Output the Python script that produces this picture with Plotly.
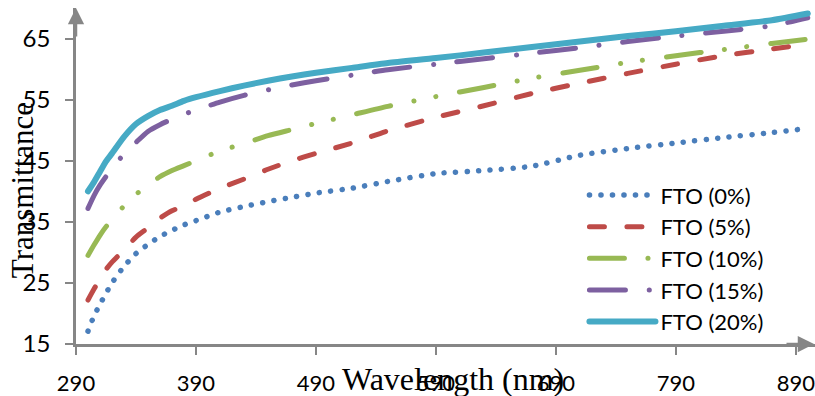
import plotly.graph_objects as go

wavelength = [300, 305, 310, 315, 320, 330, 340, 350, 360, 370, 380, 390, 410, 430, 450,
              470, 490, 520, 550, 590, 630, 670, 710, 750, 790, 830, 870, 900]

fto_0 = [17.1, 19.6, 21.5, 23.3, 25.0, 27.7, 29.8, 31.3, 32.6, 33.6, 34.5, 35.2, 36.6, 37.5, 38.3,
         39.0, 39.7, 40.5, 41.6, 42.9, 43.4, 44.1, 45.9, 47.0, 47.9, 48.8, 49.6, 50.3]
fto_5 = [22.2, 24.0, 25.6, 27.2, 28.4, 30.4, 32.5, 34.0, 35.6, 36.8, 37.6, 38.7, 40.5, 42.0, 43.6,
         45.0, 46.2, 47.9, 49.9, 52.1, 54.0, 56.0, 57.7, 59.3, 60.8, 62.2, 63.3, 64.1]
fto_10 = [29.5, 31.2, 32.8, 34.2, 35.3, 37.6, 39.5, 41.0, 42.4, 43.4, 44.2, 45.0, 46.6, 47.8, 49.1,
          50.1, 51.1, 52.5, 53.9, 55.5, 57.0, 58.5, 59.8, 61.1, 62.2, 63.2, 64.2, 64.9]
fto_15 = [37.2, 39.3, 41.0, 42.4, 43.7, 46.1, 48.0, 49.8, 50.9, 51.8, 52.6, 53.3, 54.6, 55.7, 56.6,
          57.4, 58.1, 59.0, 59.9, 60.8, 61.7, 62.6, 63.5, 64.5, 65.4, 66.2, 67.1, 68.4]
fto_20 = [40.0, 41.5, 43.2, 44.9, 46.2, 48.9, 51.0, 52.3, 53.3, 54.0, 54.8, 55.4, 56.4, 57.3, 58.1,
          58.8, 59.4, 60.2, 61.0, 61.8, 62.7, 63.6, 64.5, 65.4, 66.2, 67.1, 68.0, 69.1]

series_names = ["FTO (0%)", "FTO (5%)", "FTO (10%)", "FTO (15%)", "FTO (20%)"]
series_values = [fto_0, fto_5, fto_10, fto_15, fto_20]

x_ticks = [290, 390, 490, 590, 690, 790, 890]
y_ticks = [15, 25, 35, 45, 55, 65]

colors = ["#4a7ebb", "#be4b48", "#98b954", "#7d60a0", "#46aac5"]
# dash patterns designed for round line caps
dashes = ["0.1px,11.4px", "15px,22.5px", "35px,23.5px,0.1px,22.3px,0.1px,24px",
          "36px,23.8px,0.1px,23.5px", "solid"]
widths = [5.5, 5, 5, 5, 6]

fig = go.Figure()
for i, (name, vals) in enumerate(zip(series_names, series_values)):
    fig.add_trace(go.Scatter(
        x=wavelength, y=vals, name=name, mode="lines",
        line=dict(color=colors[i], width=widths[i], dash=dashes[i], shape="spline", smoothing=0.6),
    ))

axis_color = "#868686"

fig.update_layout(
    width=815, height=396,
    margin=dict(l=76, r=0, t=8, b=50),
    paper_bgcolor="white", plot_bgcolor="white",
    showlegend=True,
    legend=dict(
        x=0.688, y=0.505, xanchor="left", yanchor="top",
        font=dict(family="Lato", size=22, color="#000000"),
        bgcolor="rgba(0,0,0,0)",
        itemwidth=66,
        traceorder="normal",
    ),
    xaxis=dict(
        range=[290, 906], tickvals=x_ticks, ticktext=[str(v) for v in x_ticks],
        showgrid=False, zeroline=False, showline=True, linecolor=axis_color, linewidth=2.5,
        ticks="outside", ticklen=8, tickwidth=2, tickcolor=axis_color,
        tickfont=dict(family="Lato", size=22, color="#000000"),
        ticklabelstandoff=10, ticklabeloverflow="allow",
    ),
    yaxis=dict(
        range=[15, 70], tickvals=y_ticks, ticktext=[str(v) for v in y_ticks],
        showgrid=False, zeroline=False, showline=True, linecolor=axis_color, linewidth=2.5,
        ticks="outside", ticklen=8, tickwidth=2, tickcolor=axis_color,
        tickfont=dict(family="Lato", size=24, color="#000000"),
        ticklabelstandoff=10, ticklabeloverflow="allow",
    ),
    annotations=[
        dict(xref="paper", yref="paper", x=1, y=0, ax=-30, ay=0, text="", showarrow=True,
             arrowhead=2, arrowsize=1.3, arrowwidth=2.5, arrowcolor=axis_color),
        dict(xref="paper", yref="paper", x=0, y=1, ax=0, ay=30, text="", showarrow=True,
             arrowhead=2, arrowsize=1.3, arrowwidth=2.5, arrowcolor=axis_color),
        dict(xref="paper", yref="paper", x=0.51, y=-0.104, text="Wavelength (nm)", showarrow=False,
             xanchor="center", yanchor="middle",
             font=dict(family="Liberation Serif", size=32, color="#000000")),
        dict(xref="paper", yref="paper", x=-0.073, y=0.458, text="Transmittance", showarrow=False,
             xanchor="center", yanchor="middle", textangle=-90,
             font=dict(family="Liberation Serif", size=31, color="#000000")),
    ],
)

post = """
var gd = document.getElementById('{plot_id}');
function roundCaps() {
  gd.querySelectorAll('.scatterlayer path.js-line, .legendlines path').forEach(function(p) {
    p.style.strokeLinecap = 'round';
    p.style.strokeLinejoin = 'round';
  });
}
roundCaps();
gd.on('plotly_afterplot', roundCaps);
"""

fig.write_html("out.html", post_script=post)
